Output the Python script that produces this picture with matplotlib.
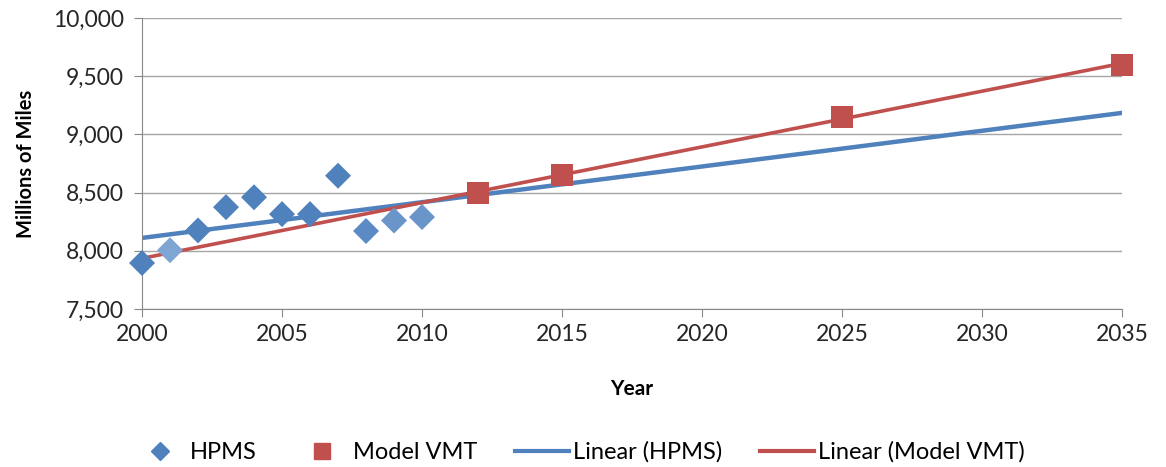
import numpy as np
import matplotlib
matplotlib.use("Agg")
from matplotlib import pyplot as plt
from matplotlib.lines import Line2D

hpms_years = [2000, 2001, 2002, 2003, 2004, 2005, 2006, 2007, 2008, 2009, 2010]
hpms_vmt = [7895, 8005, 8175, 8375, 8460, 8315, 8315, 8645, 8170, 8260, 8290]
model_years = [2012, 2015, 2025, 2035]
model_vmt = [8500, 8655, 9150, 9600]

blue = '#4F81BD'
light_blue = '#7FA5D3'
red = '#C0504D'

plt.rcParams['font.family'] = ['Lato', 'DejaVu Sans']

fig = plt.figure(figsize=(11.66, 4.67), dpi=100)
ax = fig.add_axes([0.1218, 0.3383, 0.8405, 0.6232])

# trend lines over the full axis range
xs = np.array([2000, 2035])
b1, a1 = np.polyfit(hpms_years, hpms_vmt, 1)
b2, a2 = np.polyfit(model_years, model_vmt, 1)
ax.plot(xs, a1 + b1 * xs, color=blue, lw=3.2, zorder=2)
ax.plot(xs, a2 + b2 * xs, color=red, lw=2.6, zorder=2)

pt_colors = [blue, light_blue, blue, blue, blue, blue, blue, blue, '#5B8AC4', '#6A95C9', '#6A95C9']
ax.scatter(hpms_years, hpms_vmt, marker='D', s=175, c=pt_colors, zorder=3, linewidths=0, clip_on=False)
ax.scatter(model_years, model_vmt, marker='s', s=235, c=red, zorder=3, linewidths=0, clip_on=False)

ax.set_xlim(2000, 2035)
ax.set_ylim(7500, 10000)
ax.set_xticks(range(2000, 2036, 5))
ax.set_yticks(range(7500, 10001, 500))
ax.yaxis.set_major_formatter(matplotlib.ticker.FuncFormatter(lambda v, p: f'{int(v):,}'))
ax.grid(axis='y', color='#A6A6A6', lw=1.0)
ax.set_axisbelow(True)
for s in ['top', 'right']:
    ax.spines[s].set_visible(False)
for s in ['left', 'bottom']:
    ax.spines[s].set_color('#888888')
ax.tick_params(axis='both', colors='#888888', labelcolor='#262626', labelsize=16.5, length=6)
ax.tick_params(axis='x', pad=5)
ax.tick_params(axis='y', pad=7)

ax.set_xlabel('Year', fontsize=15, fontweight='bold', labelpad=24)
ax.set_ylabel('Millions of Miles', fontsize=14.5, fontweight='bold', labelpad=12)

handles = [
    Line2D([], [], marker='D', color=blue, ls='none', markersize=8.7),
    Line2D([], [], marker='s', color=red, ls='none', markersize=12),
    Line2D([], [], color=blue, lw=3),
    Line2D([], [], color=red, lw=3),
]
labels = ['HPMS', 'Model VMT', 'Linear (HPMS)', 'Linear (Model VMT)']
fig.legend(handles, labels, loc='center', bbox_to_anchor=(0.496, 0.032), ncol=4,
           frameon=False, fontsize=17, columnspacing=1.6, handlelength=2.3, handletextpad=0.15)

fig.savefig('out.png', dpi=100)
